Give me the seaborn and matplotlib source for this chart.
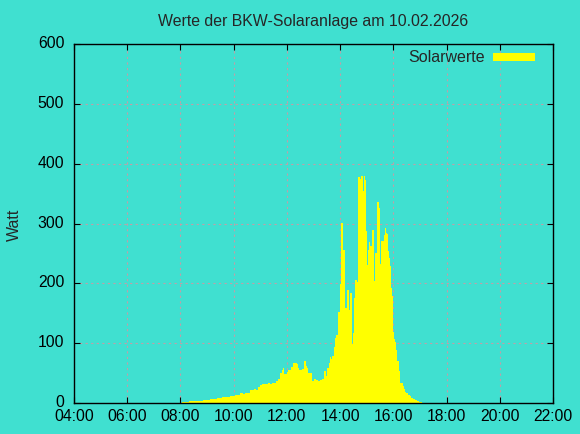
import matplotlib
matplotlib.use('Agg')
import matplotlib.pyplot as plt
from matplotlib.patches import Patch, Rectangle
from matplotlib.legend_handler import HandlerPatch
from matplotlib.transforms import ScaledTranslation
import seaborn as sns
import numpy as np
import pandas as pd

# Messzeitpunkte (Beginn jedes Intervalls) und Leistung in Watt
zeiten = ["08:03", "08:19", "08:51", "09:07", "09:22", "09:34", "09:38", "09:52", "10:03", "10:14",
          "10:21", "10:26", "10:37", "10:46", "10:50", "10:55", "10:59", "11:04", "11:08", "11:17",
          "11:22", "11:26", "11:31", "11:35", "11:40", "11:44", "11:49", "11:51", "11:53", "12:00",
          "12:02", "12:09", "12:14", "12:23", "12:25", "12:27", "12:34", "12:39", "12:43", "12:45",
          "12:48", "12:57", "13:01", "13:06", "13:10", "13:15", "13:19", "13:24", "13:28", "13:30",
          "13:35", "13:37", "13:39", "13:42", "13:46", "13:48", "13:51", "13:55", "14:00", "14:02",
          "14:06", "14:11", "14:16", "14:20", "14:22", "14:27", "14:29", "14:31", "14:34", "14:37",
          "14:39", "14:40", "14:45", "14:47", "14:52", "14:54", "14:56", "14:58", "15:01", "15:03",
          "15:05", "15:07", "15:12", "15:16", "15:19", "15:23", "15:28", "15:30", "15:32", "15:39",
          "15:41", "15:43", "15:46", "15:48", "15:50", "15:53", "15:55", "15:57", "15:59", "16:02",
          "16:04", "16:06", "16:08", "16:13", "16:15", "16:22", "16:24", "16:26", "16:29", "16:33",
          "16:38", "16:40", "16:44", "16:49", "16:53", "16:58", "17:05"]
watt = [2, 4, 5.5, 7, 9, 10.5, 10, 12, 14, 17,
        15, 17, 21, 23, 22, 26, 30, 32, 31, 33,
        32, 34, 33, 37, 40, 50, 55, 58, 49, 51,
        55, 61, 67, 65, 58, 55, 57, 70, 62, 59,
        50, 37, 40, 38, 36, 39, 40, 53, 45, 58,
        67, 77, 74, 79, 94, 109, 114, 152, 199, 301,
        256, 159, 189, 156, 184, 99, 117, 176, 206, 172,
        202, 378, 374, 379, 354, 379, 373, 287, 231, 256,
        269, 262, 289, 204, 251, 336, 326, 232, 271, 281,
        292, 284, 282, 254, 243, 229, 192, 179, 119, 107,
        102, 89, 70, 53, 33, 29, 23, 18, 16, 13,
        12, 9, 7, 5, 3, 2, 0]
x_ticks = ["04:00", "06:00", "08:00", "10:00", "12:00", "14:00", "16:00", "18:00", "20:00", "22:00"]
y_ticks = [0, 100, 200, 300, 400, 500, 600]


def to_hours(s):
    h, m = s.split(":")
    return int(h) + int(m) / 60


def legend_box(legend, orig_handle, xdescent, ydescent, width, height, fontsize):
    # flacher Balken, der auf der Grundlinie des Textes sitzt
    return Rectangle((-xdescent, -ydescent), width, 0.5 * fontsize)


bg = "#40e0d0"
sns.set_style("ticks", {"axes.facecolor": bg, "figure.facecolor": bg})
plt.rcParams['font.family'] = ['Liberation Sans', 'DejaVu Sans']

stunden = [to_hours(z) for z in zeiten]
df = pd.DataFrame({"zeit": stunden[:-1], "watt": watt[:-1]})

fig = plt.figure(figsize=(5.8, 4.35), dpi=100)
ax = fig.add_axes([74 / 580, 31 / 435, 479 / 580, 359 / 435])

sns.histplot(data=df, x="zeit", weights="watt", bins=stunden, element="step",
             fill=True, color="#ffff00", alpha=1, linewidth=0, ax=ax)

xt = [to_hours(t) for t in x_ticks]
ax.set_xlim(xt[0], xt[-1])
ax.set_ylim(y_ticks[0], y_ticks[-1])
ax.set_xticks(xt)
ax.set_xticklabels(x_ticks)
ax.set_yticks(y_ticks)
ax.grid(True, color="#c0a0a8", linestyle=(0, (2, 3)), linewidth=0.8)
ax.set_axisbelow(True)
ax.tick_params(direction="in", length=4, width=0.8, top=True, right=True,
               labelsize=11.3, colors="black")
ax.tick_params(axis="x", pad=3.5)
ax.tick_params(axis="y", pad=7)
for lab in ax.get_yticklabels():
    lab.set_transform(lab.get_transform() + ScaledTranslation(0, 3 / 100, fig.dpi_scale_trans))
for sp in ax.spines.values():
    sp.set_visible(True)
    sp.set_color("black")
    sp.set_linewidth(1.0)

ax.set_xlabel("")
ax.set_ylabel("Watt", fontsize=11.5, labelpad=11.5)
ax.set_title("Werte der BKW-Solaranlage am 10.02.2026", fontsize=11.45, pad=14)

handle = Patch(facecolor="#ffff00", edgecolor="none", label="Solarwerte")
ax.legend(handles=[handle], loc="upper right", bbox_to_anchor=(0.962, 0.987),
          frameon=False, markerfirst=False, fontsize=11.5, handlelength=2.62,
          handleheight=0.7, borderaxespad=0, borderpad=0, handletextpad=0.5,
          handler_map={Patch: HandlerPatch(patch_func=legend_box)})

fig.savefig("out.png", dpi=100, facecolor=bg)
plt.close()
